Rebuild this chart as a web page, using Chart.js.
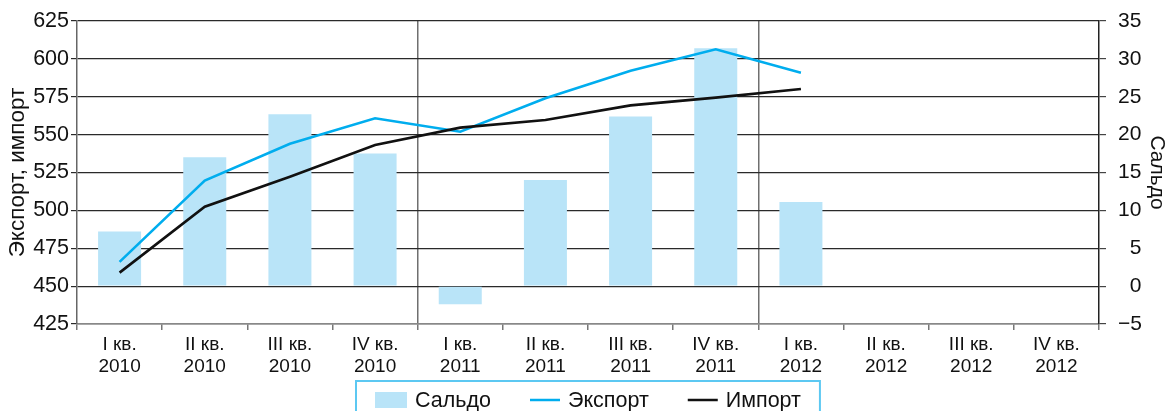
<!DOCTYPE html>
<html>
<head>
<meta charset="utf-8">
<script src="https://cdn.jsdelivr.net/npm/chart.js@4/dist/chart.umd.min.js"></script>
<style>
  html, body { margin: 0; padding: 0; background: #fff; }
  #wrap { width: 1173px; height: 411px; }
</style>
</head>
<body>
<div id="wrap"><canvas id="c" width="1173" height="411"></canvas></div>
<script>
const quarters = ['I кв.', 'II кв.', 'III кв.', 'IV кв.', 'I кв.', 'II кв.', 'III кв.', 'IV кв.', 'I кв.', 'II кв.', 'III кв.', 'IV кв.'];
const years = ['2010', '2010', '2010', '2010', '2011', '2011', '2011', '2011', '2012', '2012', '2012', '2012'];
const saldo = [7.2, 17.0, 22.7, 17.5, -2.4, 14.0, 22.4, 31.4, 11.1, null, null, null];
const exportVals = [466, 519.6, 544, 560.8, 551.9, 574, 592.2, 606.3, 590.9, null, null, null];
const importVals = [458.9, 502.4, 522.2, 543.2, 554.6, 559.7, 569.3, 574.4, 580.1, null, null, null];
const leftRange = { min: 425, max: 625, step: 25 };
const rightRange = { min: -5, max: 35, step: 5 };
const seriesNames = ['Сальдо', 'Экспорт', 'Импорт'];
const leftTitle = 'Экспорт, импорт';
const rightTitle = 'Сальдо';

const labels = quarters.map((q, i) => [q, years[i]]);
const FONT = "'Liberation Sans', Arial, Helvetica, sans-serif";

const legendPlugin = {
  id: 'boxLegend',
  afterDraw(chart) {
    const ctx = chart.ctx;
    const area = chart.chartArea;
    ctx.save();
    ctx.font = '21.5px ' + FONT;
    const ds = chart.data.datasets;
    const gapText = 8, gapItem = 39, pad = 19;
    const sws = ds.map(d => d.type === 'bar' ? 32 : 30);
    const widths = ds.map((d, i) => sws[i] + gapText + ctx.measureText(d.label).width);
    const total = widths.reduce((a, b) => a + b, 0) + gapItem * (ds.length - 1) + pad * 2;
    const cx = (area.left + area.right) / 2;
    const left = Math.round(cx - total / 2);
    const top = 381;
    ctx.strokeStyle = '#5cc8f2';
    ctx.lineWidth = 2;
    ctx.strokeRect(left, top, total, 60);
    let x = left + pad;
    const midY = 400;
    ds.forEach((d, i) => {
      const sw = sws[i];
      if (d.type === 'bar') {
        ctx.fillStyle = d.backgroundColor;
        ctx.fillRect(x, midY - 8, sw, 16);
      } else {
        ctx.strokeStyle = d.borderColor;
        ctx.lineWidth = 2.5;
        ctx.beginPath();
        ctx.moveTo(x, midY);
        ctx.lineTo(x + sw, midY);
        ctx.stroke();
      }
      ctx.fillStyle = '#111';
      ctx.textBaseline = 'middle';
      ctx.textAlign = 'left';
      ctx.fillText(d.label, x + sw + gapText, midY + 1);
      x += widths[i] + gapItem;
    });
    ctx.restore();
  }
};

new Chart(document.getElementById('c'), {
  data: {
    labels: labels,
    datasets: [
      {
        type: 'bar', label: seriesNames[0], data: saldo, yAxisID: 'y1',
        backgroundColor: '#b9e4f8', borderWidth: 0,
        categoryPercentage: 1.0, barPercentage: 0.505, order: 3
      },
      {
        type: 'line', label: seriesNames[1], data: exportVals, yAxisID: 'y',
        borderColor: '#00adee', backgroundColor: '#00adee', borderWidth: 2.6,
        pointRadius: 0, tension: 0, spanGaps: false, order: 1
      },
      {
        type: 'line', label: seriesNames[2], data: importVals, yAxisID: 'y',
        borderColor: '#111111', backgroundColor: '#111111', borderWidth: 2.6,
        pointRadius: 0, tension: 0, spanGaps: false, order: 0
      }
    ]
  },
  options: {
    responsive: false,
    animation: false,
    devicePixelRatio: 1,
    layout: { padding: { top: 21, left: 0, right: 0, bottom: 0 } },
    plugins: {
      legend: { display: false },
      tooltip: { enabled: false },
      title: { display: false }
    },
    scales: {
      x: {
        type: 'category',
        offset: true,
        grid: {
          offset: true,
          drawOnChartArea: true,
          drawTicks: true,
          tickLength: 6,
          tickColor: '#777',
          lineWidth: 1.5,
          color: (c) => (c.index === 4 || c.index === 8) ? '#6f6f6f' : 'rgba(0,0,0,0)'
        },
        border: { display: true, color: '#888', width: 1.5 },
        ticks: {
          color: '#111', maxRotation: 0, autoSkip: false, padding: 4,
          font: { family: FONT, size: 19, lineHeight: 1.16 }
        },
        afterFit: (s) => { s.height = 87; }
      },
      y: {
        type: 'linear', position: 'left', z: 1,
        min: leftRange.min, max: leftRange.max,
        ticks: {
          stepSize: leftRange.step, color: '#111', padding: 2,
          font: { family: FONT, size: 21.5, lineHeight: 0.8 }
        },
        grid: { color: '#2a2a2a', lineWidth: 1.2, tickLength: 6, drawTicks: true },
        border: { display: true, color: '#666', width: 1.5 },
        title: {
          display: true, text: leftTitle, color: '#111',
          font: { family: FONT, size: 22.5, lineHeight: 1.2 }, padding: { top: 4, bottom: 0 }
        },
        afterFit: (s) => { s.width = 77; }
      },
      y1: {
        type: 'linear', position: 'right',
        min: rightRange.min, max: rightRange.max,
        ticks: {
          stepSize: rightRange.step, color: '#111', padding: 12, crossAlign: 'near',
          font: { family: FONT, size: 21, lineHeight: 0.7 },
          callback: (v) => {
            const s = String(v).replace('-', '\u2212');
            return s.length < 2 ? '\u2007' + s : s;
          }
        },
        grid: { drawOnChartArea: false, color: '#444', lineWidth: 1.2, tickLength: 7 },
        border: { display: true, color: '#222', width: 1.5 },
        title: {
          display: true, text: rightTitle, color: '#111',
          font: { family: FONT, size: 21, lineHeight: 1.2 }, padding: { top: 4, bottom: 0 }
        },
        afterFit: (s) => { s.width = 74; }
      }
    }
  },
  plugins: [legendPlugin]
});
</script>
</body>
</html>
